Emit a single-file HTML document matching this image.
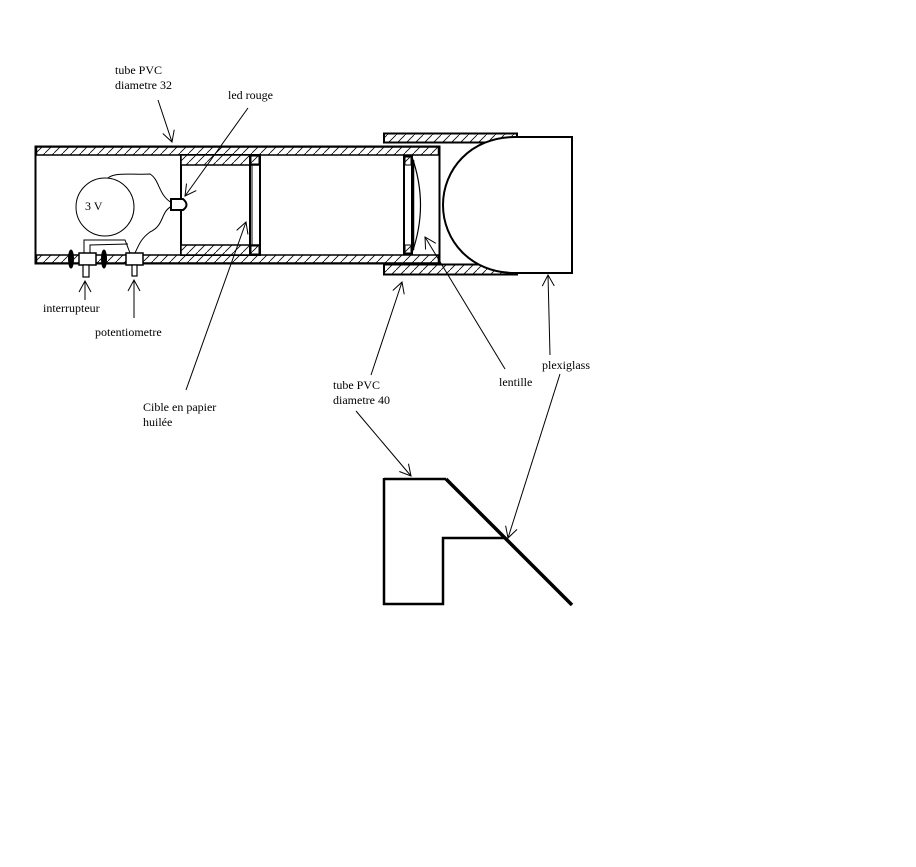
<!DOCTYPE html>
<html><head><meta charset="utf-8"><style>
html,body{margin:0;padding:0;background:#fff;}
svg{display:block;}
text{font-family:"Liberation Serif",serif;font-size:12px;fill:#000;}
</style></head><body>
<svg width="916" height="867" viewBox="0 0 916 867" xmlns="http://www.w3.org/2000/svg">
<defs>
<pattern id="h" width="9" height="9" patternUnits="userSpaceOnUse">
<rect width="9" height="9" fill="#fff"/>
<line x1="0" y1="9" x2="9" y2="0" stroke="#000" stroke-width="0.8"/>
</pattern>
<marker id="a" markerWidth="14" markerHeight="14" refX="12" refY="7" orient="auto" markerUnits="userSpaceOnUse">
<path d="M1,1 L12,7 L1,13" fill="none" stroke="#000" stroke-width="1"/>
</marker>
</defs>
<g stroke="#000" fill="none">
<!-- inner tube -->
<rect x="35.5" y="146.5" width="404" height="117" stroke-width="2"/>
<rect x="36.5" y="147" width="402" height="8" fill="url(#h)" stroke-width="1.5"/>
<rect x="36.5" y="255" width="402" height="8" fill="url(#h)" stroke-width="1.5"/>
<!-- sleeve -->
<rect x="181" y="155" width="79" height="100" stroke-width="2"/>
<rect x="181" y="155" width="79" height="10" fill="url(#h)" stroke-width="1.5"/>
<rect x="181" y="245" width="79" height="10" fill="url(#h)" stroke-width="1.5"/>
<rect x="250" y="155" width="10" height="100" stroke-width="2"/>
<rect x="251" y="156" width="8" height="8" fill="url(#h)" stroke-width="1"/>
<rect x="251" y="246" width="8" height="8" fill="url(#h)" stroke-width="1"/>
<line x1="252" y1="164" x2="252" y2="246" stroke-width="1"/>
<!-- lens holder -->
<rect x="404" y="156" width="8" height="98" stroke-width="2"/>
<rect x="405" y="157" width="6" height="8" fill="url(#h)" stroke-width="1"/>
<rect x="405" y="245" width="6" height="8" fill="url(#h)" stroke-width="1"/>
<path d="M412,157 Q429,205 412,253" stroke-width="1.2"/>
<line x1="413" y1="160" x2="413" y2="250" stroke-width="2.5"/>
<!-- outer tube -->
<rect x="384" y="133.5" width="133" height="9" fill="url(#h)" stroke-width="2"/>
<rect x="384" y="264.5" width="133" height="10" fill="url(#h)" stroke-width="2"/>
<!-- plexiglass -->
<path d="M515,137 L572,137 L572,273 L515,273 C470,273 443,240 443,205 C443,170 470,137 515,137 Z" fill="#fff" stroke-width="2"/>
<!-- battery -->
<circle cx="105" cy="207" r="29" stroke-width="1"/>
<path d="M108,178 C115,172 130,175 150,174 C160,180 158,195 172,203" stroke-width="1"/>
<path d="M172,206 C160,212 165,225 150,232 C142,238 140,242 135,253" stroke-width="1"/>
<path d="M84,253 L84,240 L125,240 L130,253" stroke-width="1"/>
<path d="M90,253 L90,245 L128,244" stroke-width="1"/>
<path d="M171,199 L183,199 Q190,205 183,210 L171,210 Z" fill="#fff" stroke-width="2"/>
<!-- switch & pot -->
<rect x="79" y="253" width="17" height="12" fill="#fff" stroke-width="1.5"/>
<rect x="83" y="265" width="6" height="12" fill="#fff" stroke-width="1.2"/>
<rect x="126" y="253" width="17" height="12" fill="#fff" stroke-width="1.5"/>
<rect x="132" y="265" width="5" height="11" fill="#fff" stroke-width="1.2"/>
<ellipse cx="71" cy="259" rx="2.5" ry="9" fill="#000"/>
<ellipse cx="104" cy="259" rx="2.5" ry="9" fill="#000"/>
<!-- bottom profile -->
<path d="M384,479 L446,479 M384,478 L384,604 L443,604 L443,538 L504,538" stroke-width="2.5"/>
<line x1="446" y1="479" x2="572" y2="605" stroke-width="3.5"/>
<!-- arrows -->
<g stroke-width="1" marker-end="url(#a)">
<line x1="158" y1="100" x2="172" y2="142"/>
<line x1="248" y1="108" x2="185" y2="196"/>
<line x1="186" y1="390" x2="246" y2="222"/>
<line x1="85" y1="300" x2="85" y2="281"/>
<line x1="134" y1="318" x2="134" y2="280"/>
<line x1="371" y1="375" x2="402" y2="282"/>
<line x1="356" y1="411" x2="411" y2="476"/>
<line x1="505" y1="369" x2="425" y2="237"/>
<line x1="550" y1="355" x2="548" y2="275"/>
<line x1="560" y1="374" x2="508" y2="538"/>
</g>
</g>
<text x="115" y="74">tube PVC</text>
<text x="115" y="89">diametre 32</text>
<text x="228" y="99">led rouge</text>
<text x="85" y="210">3 V</text>
<text x="43" y="312">interrupteur</text>
<text x="95" y="336">potentiometre</text>
<text x="143" y="411">Cible en papier</text>
<text x="143" y="426">huilée</text>
<text x="333" y="389">tube PVC</text>
<text x="333" y="404">diametre 40</text>
<text x="499" y="386">lentille</text>
<text x="542" y="369">plexiglass</text>
</svg>
</body></html>
